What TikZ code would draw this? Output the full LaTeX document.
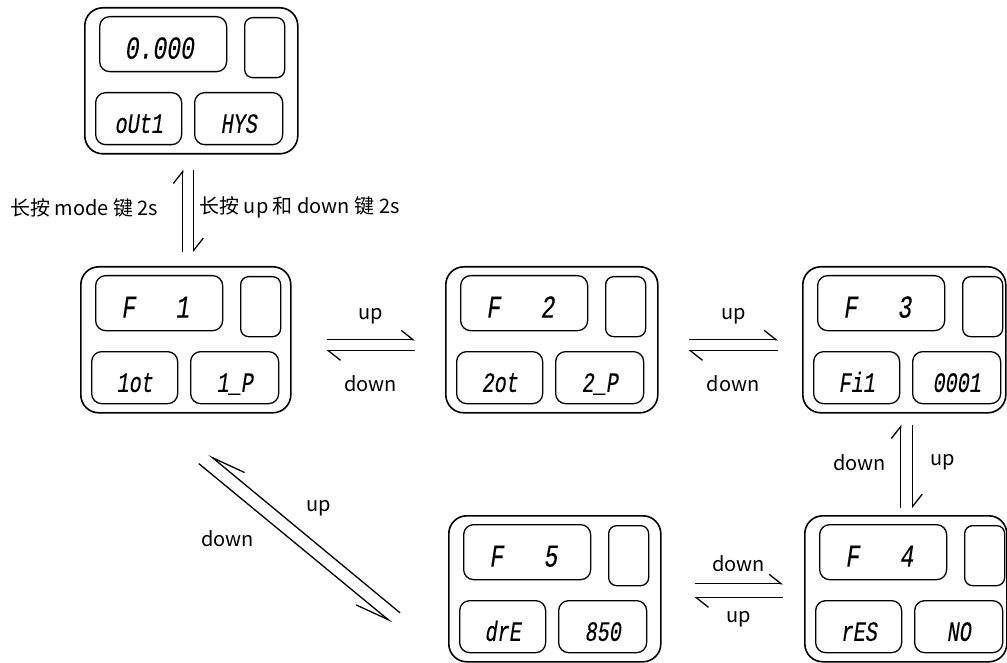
\documentclass[tikz,border=0pt]{standalone}
\usepackage{fontspec}
\setmainfont{Noto Sans CJK SC}
\newfontfamily\segfont[FakeSlant=0.15,FakeStretch=0.72,FakeBold=0.2]{Liberation Mono}
\usetikzlibrary{arrows.meta,calc}
\newcommand\fd[1]{\makebox[68pt]{F\hfill#1}}
\newcommand\lcd[7]{%
  \node[outer, minimum width=#4pt] (#1) at (#2,#3) {};
  \node[bigbox] (#1t) at ($(#1.north west)+(15,9)$) {};
  \node[smallbox] (#1s) at ($(#1.north west)+(160,10)$) {};
  \node[botbox, minimum width=86pt] (#1l) at ($(#1.north west)+(11,85)$) {};
  \node[botbox, minimum width=88pt] (#1r) at ($(#1.north west)+(110,85)$) {};
  \node[segbig] (#1tt) at ($(#1t.center)+(-4,4)$) {#5};
  \node[segsmall] (#1lt) at ($(#1l.center)+(0,5)$) {#6};
  \node[segsmall] (#1rt) at ($(#1r.center)+(0,5)$) {#7};
}
\begin{document}
\begin{tikzpicture}[x=1pt,y=-1pt,
  outer/.style={draw, line width=1.6pt, rounded corners=18pt, minimum height=146pt, inner sep=0pt, anchor=north west},
  bigbox/.style={draw, line width=1.3pt, rounded corners=10pt, minimum width=127pt, minimum height=55pt, inner sep=0pt, anchor=north west},
  smallbox/.style={draw, line width=1.3pt, rounded corners=8pt, minimum width=40pt, minimum height=60pt, inner sep=0pt, anchor=north west},
  botbox/.style={draw, line width=1.3pt, rounded corners=10pt, minimum height=52pt, inner sep=0pt, anchor=north west},
  segbig/.style={font=\segfont\fontsize{32}{32}\selectfont, inner sep=0pt, text height=21pt, text depth=0pt},
  segsmall/.style={font=\segfont\fontsize{28}{28}\selectfont, inner sep=0pt, text height=18.5pt, text depth=0pt},
  lab/.style={font=\fontsize{20}{20}\selectfont, inner sep=0pt},
  harp/.style={line width=1.3pt, -{Straight Barb[harpoon, length=12pt, width=19pt]}},
  harpr/.style={line width=1.3pt, -{Straight Barb[harpoon, swap, length=34pt, width=18pt]}},
]
\useasboundingbox (0,0) rectangle (1007,663);

\lcd{p0}{84}{7}{213}{0.000}{oUt1}{HYS}
\lcd{p1}{80}{266}{210}{\fd{1}}{1ot}{1\_P}
\lcd{p2}{445}{266}{212}{\fd{2}}{2ot}{2\_P}
\lcd{p3}{802}{266}{203}{\fd{3}}{Fi1}{0001}
\lcd{p5}{448}{515}{212}{\fd{5}}{drE}{850}
\lcd{p4}{804}{515}{202}{\fd{4}}{rES}{NO}

% top <-> F1
\draw[harp] ($(p1.north)+(-3,-14)$) -- node[lab, anchor=east, xshift=-24pt, yshift=3pt] (l0a) {长按 mode 键 2s} ($(p0.south)+(-8.5,15)$);
\draw[harp] ($(p0.south)+(2.5,15)$) -- node[lab, anchor=west, xshift=5pt, yshift=3pt] (l0b) {长按 up 和 down 键 2s} ($(p1.north)+(8,-14)$);

% F1 <-> F2
\draw[harp] ($(p1.east)+(35,0)$) -- node[lab, yshift=24pt] (l1a) {up} ($(p2.west)+(-30,0)$);
\draw[harp] ($(p2.west)+(-30,11)$) -- node[lab, yshift=-33pt] (l1b) {down} ($(p1.east)+(35,11)$);

% F2 <-> F3
\draw[harp] ($(p2.east)+(30,0)$) -- node[lab, yshift=24pt] (l2a) {up} ($(p3.west)+(-24,0)$);
\draw[harp] ($(p3.west)+(-24,11)$) -- node[lab, yshift=-33pt] (l2b) {down} ($(p2.east)+(30,11)$);

% F3 <-> F4
\draw[harp] ($(p4.north)+(-5,-7)$) -- node[lab, xshift=-41pt, yshift=4pt] (l3a) {down} ($(p3.south)+(-3.5,11)$);
\draw[harp] ($(p3.south)+(8.5,11)$) -- node[lab, xshift=30pt, yshift=4pt] (l3b) {up} ($(p4.north)+(7,-7)$);

% F5 <-> F4
\draw[harp] ($(p5.east)+(33,-5)$) -- node[lab, yshift=20pt] (l4a) {down} ($(p4.west)+(-21,-5)$);
\draw[harp] ($(p4.west)+(-21,9)$) -- node[lab, yshift=-21pt] (l4b) {up} ($(p5.east)+(33,9)$);

% F1 <-> F5 diagonal
\draw[harpr] ($(p5.west)+(-48,24)$) -- node[lab, xshift=14pt, yshift=25pt] (l5a) {up} ($(p1.south)+(23,41)$);
\draw[harpr] ($(p1.south)+(13,50)$) -- node[lab, xshift=-68pt, yshift=5pt] (l5b) {down} ($(p5.west)+(-56,34)$);
\end{tikzpicture}
\end{document}
